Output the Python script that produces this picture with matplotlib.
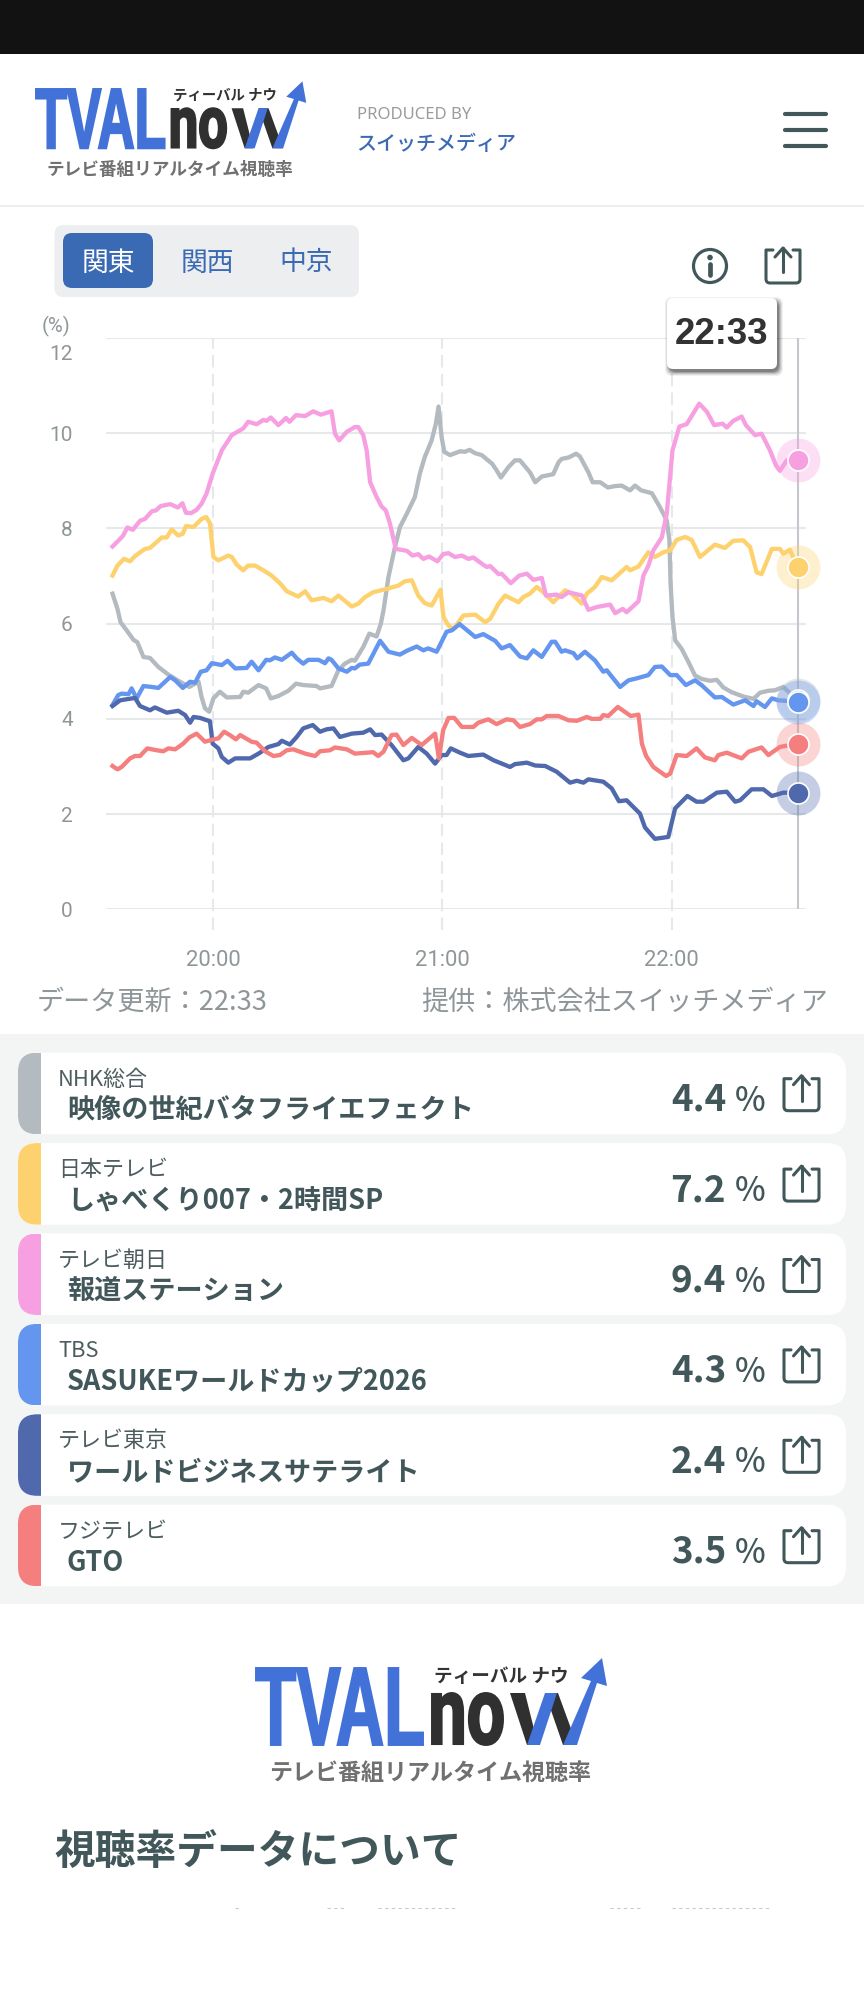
import matplotlib
matplotlib.use('Agg')
import matplotlib.pyplot as plt
from matplotlib.patches import FancyBboxPatch, Rectangle, Circle, Polygon, PathPatch
from matplotlib.path import Path
from matplotlib.textpath import TextPath
from matplotlib.font_manager import FontProperties
from matplotlib.transforms import Affine2D, ScaledTranslation

plt.rcParams['font.family'] = ['Noto Sans CJK JP', 'DejaVu Sans']

# minutes after 19:00, values in %
gray_t = [33.7,35,35.8,37.4,39.2,40.2,41.8,43.5,45.7,48.3,50.5,53.8,55.3,56.2,57,57.9,59,60.1,61.8,63.6,67.1,67.9,69.2,71.9,73.9,75.1,77.1,79.7,81.7,83.6,87.1,88,91,92.8,94.5,96.3,97.1,99.3,100.9,102.8,103.9,104.6,105.9,107.6,108.9,110.7,112.8,114.1,115.4,117.2,118.3,119,119.8,120.5,122,124.6,125.9,127.1,128.6,130.3,133,134.2,135.3,137.3,139,140.3,142.9,144.3,146,149,150.4,151.2,153,155,156,158.2,159.3,161.3,163.3,165.2,166.9,169.1,170.4,172,174.8,176.9,178.7,179.4,179.7,180.2,180.9,182.6,184.4,186.1,187.8,190,191.8,193.5,195.7,198.7,201.4,203.1,205.3,207,209.2,210.1,213]
gray_v = [6.63,6.31,6.03,5.86,5.66,5.61,5.3,5.28,5.09,4.93,4.82,4.67,4.74,4.78,4.46,4.22,4.15,4.43,4.57,4.45,4.46,4.57,4.55,4.71,4.64,4.43,4.48,4.59,4.74,4.71,4.69,4.64,4.69,5.02,5.16,5.24,5.22,5.51,5.79,5.73,6.0,6.28,6.98,7.61,8.03,8.31,8.66,9.15,9.5,9.85,10.2,10.56,9.92,9.61,9.54,9.62,9.61,9.65,9.58,9.54,9.36,9.22,9.07,9.29,9.43,9.43,9.18,8.97,9.09,9.14,9.39,9.46,9.49,9.57,9.51,9.18,8.97,8.97,8.86,8.89,8.9,8.8,8.9,8.8,8.74,8.45,8.17,7.75,6.84,6.14,5.65,5.47,5.19,4.91,4.84,4.8,4.82,4.66,4.56,4.47,4.42,4.55,4.59,4.6,4.67,4.6,4.4]

yellow_t = [33.7,35,36.7,38.3,39.6,42.2,43.5,46.6,47.9,49.2,50.9,52.1,52.9,54.9,57,58.2,59.2,60.1,61.4,64,64.9,66.2,67.9,69.2,71,73.2,75.3,77.5,79.3,82.3,84.1,85.8,88.9,91,92.8,96.3,98,99.8,101.9,105.4,108.5,110.2,112,113.7,115.4,117.2,119.5,120.3,121.6,122.9,125.5,128.6,131.2,132.5,134.7,136.4,139.9,141.2,142.9,144.7,146.4,149,152.1,153.8,156.5,157.8,159.9,161.7,164.3,168.2,169.1,171.3,173.9,175.6,177.8,179.6,181.3,183.5,185.2,187.4,191.3,193.9,196.1,198.7,200.5,202.2,203.5,206.2,208.3,209.2,210.9,213]
yellow_v = [7.01,7.22,7.36,7.31,7.42,7.57,7.59,7.81,7.81,7.98,7.85,7.89,8.05,8.03,8.2,8.24,8.11,7.4,7.33,7.43,7.4,7.24,7.12,7.22,7.22,7.12,7.01,6.85,6.68,6.57,6.68,6.49,6.54,6.47,6.59,6.36,6.42,6.56,6.66,6.73,6.8,6.89,6.91,6.59,6.43,6.38,6.71,6.14,5.96,5.89,6.17,6.19,6.03,6.1,6.42,6.59,6.45,6.56,6.63,6.77,6.66,6.45,6.7,6.63,6.42,6.63,6.77,6.98,6.91,7.19,7.12,7.2,7.5,7.4,7.5,7.54,7.76,7.82,7.76,7.4,7.66,7.59,7.74,7.75,7.61,7.08,7.04,7.57,7.57,7.47,7.55,7.19]

pink_t = [33.7,35.2,36.4,37.6,39,40.9,42.2,44,45.1,46.3,48.8,50.8,52,52.9,54.2,55.7,57,58.3,59.9,62.3,64.9,67.9,69.2,71.4,73.2,74,75.1,77.1,79.1,80,81.7,84.1,86.2,88.2,91,91.9,93,95,97.1,98,99.3,100.2,101.1,102.8,104.1,105.2,106.3,107.8,109.3,110.7,112.2,113.7,115,116.5,118.7,120.2,121.6,123.3,125.1,126.8,128.1,130.3,131.6,132.5,134.7,135.5,137.9,140.1,142.1,143.8,146,147.1,149.9,151.2,153,156.5,158.2,160.4,163.9,165.2,167.2,168.2,171.3,172.6,173.9,175.2,177.4,178.7,180.2,182,183.9,187.2,189.2,191.1,193.3,194.4,196.1,198.3,199.4,201.8,203.5,205.7,207.3,208.3,210.1,213]
pink_v = [7.62,7.74,7.84,8.02,7.97,8.16,8.2,8.36,8.38,8.47,8.51,8.44,8.53,8.33,8.32,8.39,8.52,8.73,9.15,9.64,9.96,10.1,10.24,10.19,10.28,10.26,10.33,10.17,10.32,10.24,10.38,10.36,10.46,10.39,10.46,9.99,9.85,10.03,10.13,10.13,9.96,9.64,8.97,8.66,8.46,8.38,8.1,7.57,7.55,7.53,7.43,7.46,7.36,7.41,7.31,7.46,7.48,7.4,7.43,7.36,7.39,7.26,7.19,7.21,7.04,7.05,6.85,7.01,7.05,6.92,6.96,6.59,6.61,6.56,6.66,6.59,6.29,6.35,6.4,6.22,6.31,6.24,6.47,7.01,7.22,7.54,7.81,8.31,9.64,10.14,10.19,10.62,10.45,10.17,10.2,10.12,10.26,10.35,10.17,9.96,9.99,9.64,9.32,9.21,9.43,9.44]

blue_t = [33.7,35.2,36.1,37.9,38.7,40,41.8,44,45.7,48.8,50.1,52.1,54,55.3,56.8,58.3,59.7,62.3,63.8,65.8,68.8,70.1,71.9,73.9,74.9,76.2,78,80.6,81.9,83.6,84.9,87.6,89.3,90.2,91,92.8,95,96.3,97.1,98.4,100.6,103.7,105.9,108.9,110.7,113.3,115,116.3,118.5,121.1,122.5,124.5,128.6,130.7,133.8,135.5,137.7,140.3,142.1,143.8,146,148.6,149.5,151.2,152.1,154.3,155.3,157.3,159.9,162.1,163,166.5,168.7,170.8,173.9,175.6,177.4,179.6,181.3,183.7,186.1,187.8,191.3,193.1,196.1,199.2,201.4,202.2,204.4,206.2,207.9,213]
blue_v = [4.29,4.5,4.53,4.52,4.64,4.43,4.69,4.67,4.65,4.88,4.81,4.65,4.78,4.76,4.99,5.02,5.17,5.13,5.22,5.06,5.07,5.2,5.02,5.24,5.23,5.29,5.24,5.39,5.27,5.16,5.24,5.24,5.17,5.27,5.24,5.06,4.99,5.07,5.06,5.14,5.16,5.64,5.41,5.35,5.43,5.52,5.44,5.48,5.41,5.83,5.86,5.99,5.72,5.78,5.64,5.48,5.55,5.31,5.27,5.44,5.3,5.62,5.62,5.41,5.44,5.38,5.27,5.41,5.23,4.99,5.02,4.67,4.81,4.85,4.92,5.09,5.1,4.92,4.92,4.71,4.81,4.71,4.45,4.46,4.3,4.39,4.27,4.37,4.25,4.43,4.39,4.36]

navy_t = [33.7,35.7,39.6,40.9,43.5,44.8,47.9,50.9,52.7,54,54.9,56.6,59.2,59.9,61.4,62.3,64,65.8,69.7,71.9,74.5,77.1,78,80.1,81.9,83.6,86.1,88,89.7,91.5,93.2,96.3,99.3,101.1,102.4,104.1,106.7,109.8,111.1,113.7,115.9,118.1,119.8,121.1,122.2,124.6,126.8,130.7,133.4,137.7,139,142.1,144.3,146.9,149.9,153.4,155.2,156.9,158.2,162.1,164.3,166.2,168.2,171.7,173,175.6,179.1,180.9,184.1,186.5,188.3,191.8,194.4,196.6,197.9,200.9,204,206.2,209.2,213]
navy_v = [4.27,4.39,4.44,4.27,4.18,4.24,4.13,4.17,4.08,3.92,4.04,4.02,3.95,3.48,3.38,3.2,3.08,3.17,3.17,3.27,3.41,3.47,3.54,3.46,3.62,3.8,3.87,3.73,3.78,3.8,3.62,3.69,3.71,3.78,3.66,3.67,3.45,3.13,3.17,3.41,3.27,3.06,3.24,3.24,3.38,3.29,3.22,3.25,3.13,2.99,3.05,3.08,3.02,3.01,2.89,2.66,2.7,2.66,2.73,2.68,2.54,2.27,2.29,2.01,1.72,1.48,1.52,2.12,2.38,2.26,2.26,2.45,2.47,2.26,2.29,2.52,2.52,2.38,2.45,2.45]

red_t = [33.7,35,36.1,38.3,39.6,40.9,42.8,45.3,47,48.3,50.1,52.2,53.8,55.7,57.9,60.1,61.4,62.9,64.4,66,67.1,70.1,71.4,73.6,75.8,77.5,79.3,81,84.1,86.7,88,90.6,91.9,95,97.1,101.9,103.2,104.6,106.7,108,109.8,112,114.6,118.1,119.1,120.2,121.6,123.1,125.1,128.1,129.4,132,134.2,136.8,138.6,140.3,142.9,144.7,146,147.3,150.4,153,155.2,157.8,159.1,161.3,162.1,163.4,165.9,169.3,171.3,172.2,173.3,175.2,178.5,179.6,181.3,183.9,186.5,188.7,191.3,192.2,194.4,198.3,200.1,203.5,205.3,208.3,213]
red_v = [3.01,2.94,2.99,3.17,3.22,3.22,3.38,3.34,3.32,3.38,3.36,3.48,3.61,3.69,3.52,3.57,3.59,3.73,3.66,3.57,3.66,3.52,3.5,3.32,3.22,3.24,3.34,3.36,3.27,3.22,3.32,3.34,3.4,3.36,3.27,3.3,3.22,3.31,3.66,3.67,3.45,3.6,3.45,3.69,3.17,3.76,4.02,4.02,3.83,3.83,3.92,3.99,3.89,3.99,3.97,3.83,3.89,3.99,3.99,4.06,4.06,3.97,3.96,4.04,4.0,4.0,4.08,4.06,4.25,4.06,4.09,3.48,3.22,2.99,2.8,2.85,3.24,3.22,3.38,3.19,3.13,3.24,3.29,3.17,3.31,3.4,3.24,3.41,3.48]

gray_c = '#b3bac0'
yellow_c = '#fdd26e'
pink_c = '#f7a0e1'
blue_c = '#6495ef'
navy_c = '#5069ad'
red_c = '#f57e7f'

channels = ['NHK総合', '日本テレビ', 'テレビ朝日', 'TBS', 'テレビ東京', 'フジテレビ']
programs = ['映像の世紀バタフライエフェクト', 'しゃべくり007・2時間SP', '報道ステーション',
            'SASUKEワールドカップ2026', 'ワールドビジネスサテライト', 'GTO']
ratings = ['4.4', '7.2', '9.4', '4.3', '2.4', '3.5']
card_colors = [gray_c, yellow_c, pink_c, blue_c, navy_c, red_c]
tabs = ['関東', '関西', '中京']
yticks = [0, 2, 4, 6, 8, 10, 12]
xticks = [60, 120, 180]
xlabels = ['20:00', '21:00', '22:00']

dark = '#42575a'
grey_text = '#8f9699'
tab_blue = '#3a6ab4'
logo_blue = '#4272d7'

fig = plt.figure(figsize=(8.64, 20.16), dpi=100, facecolor='white')
bg = fig.add_axes([0, 0, 1, 1], zorder=0)
bg.set_xlim(0, 864)
bg.set_ylim(2016, 0)
bg.axis('off')


def fit_text(a, s, x0, y0, x1, y1, color, family='Liberation Sans', weight='bold'):
    tp = TextPath((0, 0), s, size=10, prop=FontProperties(family=family, weight=weight))
    b = tp.get_extents()
    tr = Affine2D().translate(-b.x0, -b.y0).scale((x1 - x0) / b.width, -(y1 - y0) / b.height).translate(x0, y1)
    # a thin edge makes the letters as heavy as the logo
    a.add_patch(PathPatch(tp, transform=tr + a.transData, fc=color, ec=color, lw=1.4))


def draw_logo(a, x, y, s, sub_pt, tag_pt):
    # x, y is the top left of the TVAL letters
    fit_text(a, 'TVAL', x, y, x + 167 * s, y + 77 * s, logo_blue)
    fit_text(a, 'no', x + 176 * s, y + 25 * s, x + 247 * s, y + 77 * s, '#303030', family='Roboto')
    w1 = [(254, 25), (269, 25), (282, 77), (271, 77)]
    w2 = [(271, 77), (284, 77), (301, 25), (289, 25)]
    w3 = [(289, 25), (302, 25), (321, 77), (307, 77)]
    arrow = [(307, 77), (321, 77), (341, 15), (351, 18), (346, -10), (325, 10), (335, 13)]
    for pts, col in [(w1, '#303030'), (w3, '#303030'), (w2, logo_blue), (arrow, logo_blue)]:
        a.add_patch(Polygon([(x + p[0] * s, y + p[1] * s) for p in pts], fc=col, ec='none'))
    a.text(x + 245 * s, y + 9 * s, 'ティーバル ナウ', fontsize=tag_pt, fontweight='bold', color='#333333',
           ha='center', va='center')
    a.text(x + 174 * s, y + 105 * s, 'テレビ番組リアルタイム視聴率', fontsize=sub_pt, fontweight='bold',
           color='#707070', ha='center', va='center')


def draw_share(a, x0, y0, x1, y1, arrow_top, arrow_bottom, lw=2.2):
    cx = (x0 + x1) / 2
    r = 4
    verts = [(x0 + 7, y0), (x0, y0), (x0, y1 - r), (x0, y1), (x0 + r, y1), (x1 - r, y1), (x1, y1), (x1, y1 - r),
             (x1, y0), (x1 - 7, y0)]
    codes = [Path.MOVETO, Path.LINETO, Path.LINETO, Path.CURVE3, Path.CURVE3, Path.LINETO, Path.CURVE3, Path.CURVE3,
             Path.LINETO, Path.LINETO]
    a.add_patch(PathPatch(Path(verts, codes), fc='none', ec=dark, lw=lw, capstyle='round', joinstyle='round'))
    a.plot([cx, cx], [arrow_top, arrow_bottom], color=dark, lw=lw, solid_capstyle='round')
    a.plot([cx - 8, cx, cx + 8], [arrow_top + 9, arrow_top, arrow_top + 9], color=dark, lw=lw,
           solid_capstyle='round', solid_joinstyle='round')


# header
bg.add_patch(Rectangle((0, 0), 864, 54, fc='#121212', ec='none'))
draw_logo(bg, 36, 89, 0.77, 12.7, 10.4)
bg.text(357, 115, 'PRODUCED BY', fontsize=12, color='#9b9b9b', va='center', family='Noto Sans', fontweight='bold')
bg.text(356, 144, 'スイッチメディア', fontsize=14.4, color=tab_blue, va='center', fontweight='medium')
for y in [114, 130, 146]:
    bg.plot([785, 826], [y, y], color=dark, lw=3, solid_capstyle='round')
bg.plot([0, 864], [205.5, 205.5], color='#e8ecec', lw=1.2)

# area tabs
bg.add_patch(FancyBboxPatch((54.5, 225), 304.5, 72, boxstyle='round,pad=0,rounding_size=9', fc='#eceef0', ec='none'))
bg.add_patch(FancyBboxPatch((63, 233), 90, 55, boxstyle='round,pad=0,rounding_size=9', fc=tab_blue, ec='none'))
for name, x, col in zip(tabs, [108, 207, 306], ['white', tab_blue, tab_blue]):
    bg.text(x, 263, name, fontsize=19.3, color=col, ha='center', va='center')

# info and share icons
bg.add_patch(Circle((710, 266), 16.5, fc='none', ec=dark, lw=2.3))
bg.add_patch(Circle((710, 257.5), 2.8, fc=dark, ec='none'))
bg.plot([710, 710], [264, 275], color=dark, lw=3.4, solid_capstyle='round')
draw_share(bg, 766, 250, 800, 283, 248, 272)

bg.text(56, 326, '(%)', fontsize=14.5, color=grey_text, ha='center', va='center', family='Roboto')
bg.text(37, 1002, 'データ更新：22:33', fontsize=19.5, color=grey_text, va='center')
bg.text(828, 1002, '提供：株式会社スイッチメディア', fontsize=19.5, color=grey_text, ha='right', va='center')

# programme list
bg.add_patch(Rectangle((0, 1034), 864, 570, fc='#f3f5f5', ec='none'))
for i in range(6):
    top = 1052.7 + 90.4 * i
    card = FancyBboxPatch((18, top), 828, 81.5, boxstyle='round,pad=0,rounding_size=19', fc='white', ec='none')
    bg.add_patch(card)
    strip = Rectangle((18, top), 23, 81.5, fc=card_colors[i], ec='none')
    bg.add_patch(strip)
    strip.set_clip_path(card)
    bg.text(58, top + 27, channels[i], fontsize=15.8, color='#4d5d5f', va='center')
    bg.text(67, top + 58, programs[i], fontsize=19.5, fontweight='bold', color=dark, va='center')
    bg.text(726, top + 47.5, ratings[i], fontsize=26.5, fontweight='bold', color=dark, ha='right', va='center')
    bg.text(750, top + 48.5, '%', fontsize=23.5, fontweight='medium', color=dark, ha='center', va='center')
    draw_share(bg, 784, top + 26, 819, top + 58, top + 23, top + 48)

# footer
draw_logo(bg, 256, 1668, 1.0, 16.6, 13.4)
bg.text(54, 1852, '視聴率データについて', fontsize=29.3, fontweight='bold', color=dark, va='center')
# the next paragraph is cut off, only the tops of a few glyphs show
for x0, x1 in [(235, 240), (327, 345), (378, 455), (610, 640), (672, 770)]:
    bg.plot([x0, x1], [1908, 1908], color='#c5cbcb', lw=0.8, dashes=(3, 3))

# chart
ax = fig.add_axes([106 / 864, 1 - 909.3 / 2016, 700 / 864, (909.3 - 338) / 2016], zorder=1)
ax.patch.set_alpha(0)
ax.set_xlim(32.0, 215.13)
ax.set_ylim(0, 12)
for s in ax.spines.values():
    s.set_visible(False)
ax.set_yticks(yticks)
ax.set_yticklabels([str(v) for v in yticks], fontsize=15, color=grey_text, family='Roboto')
ax.set_xticks(xticks)
ax.set_xticklabels(xlabels, fontsize=15.8, color=grey_text, family='Roboto')
ax.tick_params(axis='y', length=0, pad=24)
ax.tick_params(axis='x', length=0, pad=29)
ax.yaxis.grid(True, color='#e6e8e9', lw=1.5)
ax.set_axisbelow(True)
# the 12 label sits lower than its gridline
lab = ax.get_yticklabels()[-1]
lab.set_transform(lab.get_transform() + ScaledTranslation(0, -0.15, fig.dpi_scale_trans))
ax.vlines(xticks, -0.44, 12, color='#e6e8e9', lw=1.5, linestyles=(0, (6, 3)), clip_on=False, zorder=1)
ax.vlines(213, 0, 12, color='#c4c8cc', lw=1.5, zorder=1.5)

series = [(gray_t, gray_v, gray_c), (yellow_t, yellow_v, yellow_c), (pink_t, pink_v, pink_c),
          (blue_t, blue_v, blue_c), (navy_t, navy_v, navy_c), (red_t, red_v, red_c)]
for t, v, c in series:
    ax.plot(t, v, color=c, lw=3.1, solid_joinstyle='round', zorder=2)
for t, v, c in series:
    ax.scatter(t[-1], v[-1], s=1000, color=c, alpha=0.33, linewidths=0, clip_on=False, zorder=3)
    ax.scatter(t[-1], v[-1], s=230, color=c, edgecolors='white', linewidths=1.2, clip_on=False, zorder=4)

# time tooltip
top = fig.add_axes([0, 0, 1, 1], zorder=2)
top.set_xlim(0, 864)
top.set_ylim(2016, 0)
top.axis('off')
for grow, alpha in [(4, 0.06), (3, 0.08), (2, 0.12), (1, 0.16), (0, 0.2)]:
    top.add_patch(FancyBboxPatch((669 - grow, 301 - grow), 110 + 2 * grow, 71 + 2 * grow,
                                 boxstyle='round,pad=0,rounding_size=7', fc='black', ec='none', alpha=alpha))
top.add_patch(FancyBboxPatch((667, 298), 110, 71, boxstyle='round,pad=0,rounding_size=6', fc='white', ec='none'))
top.text(722, 335, '22:33', fontsize=26.3, fontweight='bold', color='#333333', ha='center', va='center',
         family='Liberation Sans')

fig.savefig('out.png', dpi=100)
